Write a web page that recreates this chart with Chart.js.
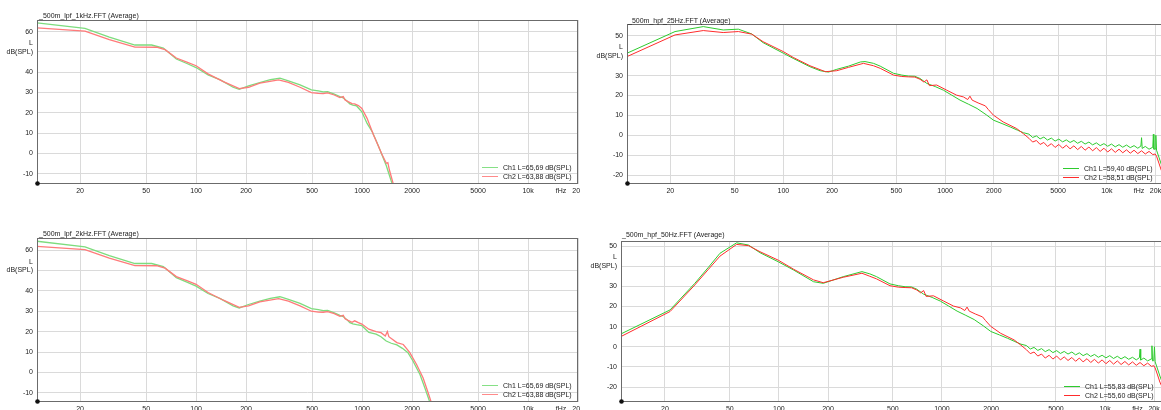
<!DOCTYPE html>
<html><head><meta charset="utf-8">
<script src="https://cdn.jsdelivr.net/npm/chart.js@4/dist/chart.umd.min.js"></script>
<style>
html,body{margin:0;padding:0;background:#fff;width:1161px;height:410px;overflow:hidden;position:relative;font-family:"Liberation Sans",Arial,sans-serif;}
canvas{position:absolute;}
.t{position:absolute;font-size:7px;line-height:8px;color:#222;white-space:nowrap;}
.lg{position:absolute;font-size:7px;line-height:9px;color:#222;white-space:nowrap;}
.lg span.ln{display:inline-block;width:16px;height:1px;vertical-align:middle;margin-right:5px;position:relative;top:-1px;}
</style></head>
<body>
<canvas id="c1" width="580" height="200" style="left:0;top:0"></canvas>
<canvas id="c2" width="580" height="200" style="left:0;top:218px"></canvas>
<canvas id="c3" width="580" height="200" style="left:590px;top:0"></canvas>
<canvas id="c4" width="586" height="200" style="left:584px;top:218px"></canvas>

<div class="t" style="left:39px;top:12px">_500m_lpf_1kHz.FFT (Average)</div>
<div class="t" style="left:39px;top:230px">_500m_lpf_2kHz.FFT (Average)</div>
<div class="t" style="left:628px;top:17px">_500m_hpf_25Hz.FFT (Average)</div>
<div class="t" style="left:622px;top:231px">_500m_hpf_50Hz.FFT (Average)</div>

<div class="lg" style="left:482px;top:163px"><span class="ln" style="background:#86e086"></span>Ch1 L=65,69 dB(SPL)<br><span class="ln" style="background:#ff8a8a"></span>Ch2 L=63,88 dB(SPL)</div>
<div class="lg" style="left:482px;top:381px"><span class="ln" style="background:#86e086"></span>Ch1 L=65,69 dB(SPL)<br><span class="ln" style="background:#ff8a8a"></span>Ch2 L=63,88 dB(SPL)</div>
<div class="lg" style="left:1063px;top:164px"><span class="ln" style="background:#2ecb2e"></span>Ch1 L=59,40 dB(SPL)<br><span class="ln" style="background:#ff2c2c"></span>Ch2 L=58,51 dB(SPL)</div>
<div class="lg" style="left:1064px;top:382px"><span class="ln" style="background:#2ecb2e"></span>Ch1 L=55,83 dB(SPL)<br><span class="ln" style="background:#ff2c2c"></span>Ch2 L=55,60 dB(SPL)</div>

<script>
// ---------- tick labels ----------
const xTickValues = [20, 50, 100, 200, 500, 1000, 2000, 5000, 10000, 15800, 20000];
const xTickLabels = ['20', '50', '100', '200', '500', '1000', '2000', '5000', '10k', 'fHz', '20k'];
const yTicksLpf = [-10, 0, 10, 20, 30, 40, 50, 60];
const yTicksHpf = [-20, -10, 0, 10, 20, 30, 40, 50];

// ---------- LPF panels: shared low/mid part ----------
const lpfLowFreqCh1 = [11, 21.4, 30, 42.8, 54, 63.5, 76, 88, 100, 118, 140, 167, 182, 207, 242, 280, 320, 360, 423, 495, 545, 583, 620, 680, 735, 770, 807, 844, 880];
const lpfLowCh1 = [64.3, 61.6, 57.3, 53.4, 53.4, 51.9, 46.5, 44.3, 42.3, 38.7, 36.2, 32.6, 31.6, 33.3, 34.9, 36.3, 37.1, 35.8, 33.8, 31.3, 30.8, 30.3, 30.4, 29.2, 28.0, 27.4, 26.0, 24.4, 23.8];
const lpfLowFreqCh2 = [11, 21.4, 30, 42.8, 57.8, 65, 76, 88, 100, 118, 146, 182, 207, 242, 314, 360, 423, 495, 545, 583, 620, 680, 735, 770, 790, 824, 870];
const lpfLowCh2 = [61.8, 60.2, 56.0, 52.4, 52.3, 51.1, 47.0, 45.0, 43.2, 39.2, 35.4, 31.9, 32.6, 34.6, 36.2, 35.0, 32.6, 30.0, 29.6, 29.5, 29.8, 28.8, 27.5, 28.0, 26.3, 25.5, 24.6];

// LPF 1 kHz tail
const lpf1kTailFreqCh1 = [927, 997, 1072, 1153, 1220, 1285, 1400, 1507, 1560];
const lpf1kTailCh1 = [23.4, 20.5, 14.8, 10.6, 6.0, 1.6, -6.0, -14.1, -17.0];
const lpf1kTailFreqCh2 = [902, 950, 997, 1072, 1174, 1250, 1310, 1400, 1430, 1460, 1540, 1580];
const lpf1kTailCh2 = [24.4, 23.6, 22.2, 17.3, 9.0, 4.0, 0.0, -4.8, -4.5, -8.0, -14.9, -17.0];

// LPF 2 kHz tail
const lpf2kTailFreqCh1 = [927, 997, 1098, 1215, 1300, 1398, 1500, 1620, 1750, 1890, 2030, 2233, 2400, 2570, 2650];
const lpf2kTailCh1 = [23.4, 22.9, 19.6, 18.8, 17.5, 15.4, 14.3, 13.5, 11.8, 9.7, 5.5, -1.0, -8.0, -15.0, -18.0];
const lpf2kTailFreqCh2 = [902, 950, 997, 1098, 1215, 1300, 1380, 1420, 1450, 1620, 1771, 1840, 1940, 2130, 2333, 2500, 2620, 2700];
const lpf2kTailCh2 = [25.3, 24.4, 23.7, 21.2, 20.0, 19.5, 17.9, 20.0, 17.5, 14.6, 13.7, 12.0, 9.7, 3.9, -2.7, -10.0, -15.0, -18.0];

// ---------- HPF panels: low part ----------
const hpf25LowFreqCh1 = [10.8, 21.4, 32, 42.5, 52.7, 63.8, 75, 100, 115, 146, 169, 190, 214, 253, 300, 320, 361, 397];
const hpf25LowCh1 = [41.3, 52.2, 54.7, 53.0, 53.4, 51.0, 46.6, 41.3, 38.7, 34.5, 32.5, 31.8, 33.2, 34.8, 36.9, 37.1, 36.2, 34.8];
const hpf25LowFreqCh2 = [10.8, 21.4, 32, 42.5, 52.7, 63.8, 75, 100, 115, 146, 182, 214, 253, 313, 361, 397];
const hpf25LowCh2 = [39.6, 50.5, 52.7, 51.7, 52.2, 50.9, 47.1, 42.1, 39.2, 35.0, 32.0, 32.5, 34.2, 36.2, 35.0, 33.7];

const hpf50LowFreqCh1 = [10.75, 21.5, 30.5, 37, 43.5, 55, 65, 76.5, 99, 123, 163, 187, 248, 323, 361, 397];
const hpf50LowCh1 = [6.4, 18.3, 31.5, 39.5, 46.4, 51.6, 50.5, 46.7, 42.2, 38.1, 32.3, 31.5, 34.8, 37.3, 36.2, 34.8];
const hpf50LowFreqCh2 = [10.75, 21.5, 30.5, 37, 43.5, 55, 65, 76.5, 99, 123, 163, 187, 248, 323, 361, 397];
const hpf50LowCh2 = [5.1, 17.5, 30.7, 38.5, 45.0, 50.8, 50.2, 47.2, 43.0, 38.5, 33.2, 31.8, 34.5, 36.5, 35.0, 33.7];

// HPF panels: shared mid/high part
const hpfHighFreqCh1 = [480, 540, 594, 650, 700, 772, 870, 976, 1100, 1238, 1400, 1577, 1800, 1993, 2250, 2527, 2800, 3050,
  3300, 3480, 3670, 3870, 4080, 4300, 4540, 4790, 5050, 5330, 5620, 5930, 6260, 6600, 6960, 7340, 7750, 8170, 8620, 9100,
  9600, 10130, 10690, 11280, 11900, 12550, 13240, 13970, 14740, 15550, 16250, 16400, 16550, 17300, 18250, 19250, 19400,
  19550, 19900, 20100, 20300, 21000, 21700, 23000];
const hpfHighCh1 = [31.2, 30.3, 29.8, 29.7, 28.6, 26.1, 24.5, 22.7, 20.2, 17.7, 15.6, 13.5, 10.3, 7.6, 5.9, 4.2, 2.6, 1.3,
  0.6, -1.1, -0.3, -1.8, -0.9, -2.4, -1.4, -2.9, -1.9, -3.3, -2.3, -3.6, -2.6, -4.0, -3.0, -4.4, -3.4, -4.8, -3.8, -5.2,
  -4.2, -5.5, -4.4, -5.8, -4.7, -6.0, -4.9, -6.2, -5.2, -6.5, -5.4, -1.2, -6.6, -5.6, -7.0, -6.0, 0.5,
  -7.0, -6.9, 0.0, -7.5, -11.0, -14.5, -20.0];
const hpfHighFreqCh2 = [480, 540, 594, 650, 700, 740, 772, 800, 887, 1024, 1178, 1300, 1380, 1425, 1470, 1600, 1775, 1850, 1993, 2290, 2770, 3050,
  3300, 3480, 3670, 3870, 4080, 4300, 4540, 4790, 5050, 5330, 5620, 5930, 6260, 6600, 6960, 7340, 7750, 8170, 8620, 9100,
  9600, 10130, 10690, 11280, 11900, 12550, 13240, 13970, 14740, 15550, 16400, 17300, 18250, 19250, 19900, 20300, 21000, 21700, 23000];
const hpfHighCh2 = [30.3, 29.6, 29.4, 29.3, 28.2, 26.8, 27.9, 25.0, 25.3, 22.7, 20.2, 19.3, 18.0, 19.7, 17.7, 16.3, 14.8, 13.0, 10.1, 6.7, 3.4, 0.8,
  -1.5, -3.4, -2.6, -4.6, -3.6, -5.6, -4.2, -6.1, -4.6, -6.5, -5.0, -6.8, -5.3, -7.2, -5.6, -7.5, -5.9, -7.8, -6.2, -8.1,
  -6.5, -8.4, -6.8, -8.6, -7.0, -8.8, -7.3, -9.0, -7.5, -9.2, -7.8, -9.4, -8.1, -9.7, -9.4, -10.5, -14.0, -17.5, -22.0];

// ---------- helpers ----------
const pts = (f, v) => f.map((x, i) => ({x: x, y: v[i]}));
const gridColor = '#dadada';
Chart.defaults.font.family = "'Liberation Sans', Arial, sans-serif";
Chart.defaults.font.size = 7;
Chart.defaults.color = '#222';

const framePlugin = {
  id: 'frame',
  afterDraw(chart) {
    const ctx = chart.ctx, a = chart.chartArea;
    ctx.save();
    ctx.strokeStyle = '#6b6b6b';
    ctx.lineWidth = 1;
    const l = Math.round(a.left) + 0.5, t = Math.round(a.top) + 0.5;
    const r = Math.round(a.right) - 0.5, b = Math.round(a.bottom) - 0.5;
    ctx.strokeRect(l, t, r - l, b - t);
    ctx.fillStyle = '#111';
    ctx.beginPath();
    ctx.arc(a.left + 0.5, a.bottom - 0.5, 2.3, 0, Math.PI * 2);
    ctx.fill();
    ctx.restore();
  }
};

function buildChart(id, p) {
  return new Chart(document.getElementById(id), {
    type: 'line',
    data: {datasets: [
      {label: 'Ch2', data: p.red, borderColor: p.redColor, borderWidth: p.lw, pointRadius: 0, tension: 0, order: 0},
      {label: 'Ch1', data: p.green, borderColor: p.greenColor, borderWidth: p.lw, pointRadius: 0, tension: 0, order: 1}
    ]},
    options: {
      responsive: false, animation: false, events: [],
      layout: {padding: {top: p.top, right: p.right, left: 0, bottom: 0}},
      plugins: {legend: {display: false}, tooltip: {enabled: false}, title: {display: false}},
      scales: {
        x: {
          type: 'logarithmic', min: p.xmin, max: p.xmax,
          grid: {color: c => (c.tick && c.tick.value === 15800) ? 'rgba(0,0,0,0)' : gridColor, lineWidth: 1, drawTicks: false},
          border: {display: false},
          ticks: {autoSkip: false, maxRotation: 0, minRotation: 0, padding: 3, callback: (v, i) => xTickLabels[i]},
          afterBuildTicks: s => { s.ticks = xTickValues.map(v => ({value: v})); },
          afterFit: s => { s.height = 16; s.paddingLeft = 0; s.paddingRight = 0; }
        },
        y: {
          type: 'linear', min: p.ymin, max: p.ymax,
          grid: {color: gridColor, lineWidth: 1, drawTicks: false},
          border: {display: false},
          ticks: {autoSkip: false, padding: 4, font: {size: 7, lineHeight: 1.25},
            callback: v => v === p.unitAt ? ['L', 'dB(SPL)', ''] : String(v)},
          afterBuildTicks: s => { s.ticks = p.yTicks.map(v => ({value: v})); },
          afterFit: s => { s.width = 37; s.paddingTop = 0; s.paddingBottom = 0; }
        }
      }
    },
    plugins: [framePlugin]
  });
}

const lpfGreen = '#7ddc7d', lpfRed = '#ff7a7a';
const hpfGreen = '#2ecb2e', hpfRed = '#ff2c2c';

buildChart('c1', {
  green: pts(lpfLowFreqCh1.concat(lpf1kTailFreqCh1), lpfLowCh1.concat(lpf1kTailCh1)),
  red: pts(lpfLowFreqCh2.concat(lpf1kTailFreqCh2), lpfLowCh2.concat(lpf1kTailCh2)),
  greenColor: lpfGreen, redColor: lpfRed, lw: 1.3,
  top: 20, right: 2, xmin: 11, xmax: 20000, ymin: -15, ymax: 65.7, yTicks: yTicksLpf, unitAt: 50
});
buildChart('c2', {
  green: pts(lpfLowFreqCh1.concat(lpf2kTailFreqCh1), lpfLowCh1.concat(lpf2kTailCh1)),
  red: pts(lpfLowFreqCh2.concat(lpf2kTailFreqCh2), lpfLowCh2.concat(lpf2kTailCh2)),
  greenColor: lpfGreen, redColor: lpfRed, lw: 1.3,
  top: 20, right: 2, xmin: 11, xmax: 20000, ymin: -14.5, ymax: 65.9, yTicks: yTicksLpf, unitAt: 50
});
buildChart('c3', {
  green: pts(hpf25LowFreqCh1.concat(hpfHighFreqCh1), hpf25LowCh1.concat(hpfHighCh1)),
  red: pts(hpf25LowFreqCh2.concat(hpfHighFreqCh2), hpf25LowCh2.concat(hpfHighCh2)),
  greenColor: hpfGreen, redColor: hpfRed, lw: 1,
  top: 24, right: 5, xmin: 10.8, xmax: 22900, ymin: -24.5, ymax: 56, yTicks: yTicksHpf, unitAt: 40
});
buildChart('c4', {
  green: pts(hpf50LowFreqCh1.concat(hpfHighFreqCh1), hpf50LowCh1.concat(hpfHighCh1)),
  red: pts(hpf50LowFreqCh2.concat(hpfHighFreqCh2), hpf50LowCh2.concat(hpfHighCh2)),
  greenColor: hpfGreen, redColor: hpfRed, lw: 1,
  top: 23, right: 6, xmin: 10.75, xmax: 23000, ymin: -27.4, ymax: 52.5, yTicks: yTicksHpf, unitAt: 40
});
</script>
</body></html>
